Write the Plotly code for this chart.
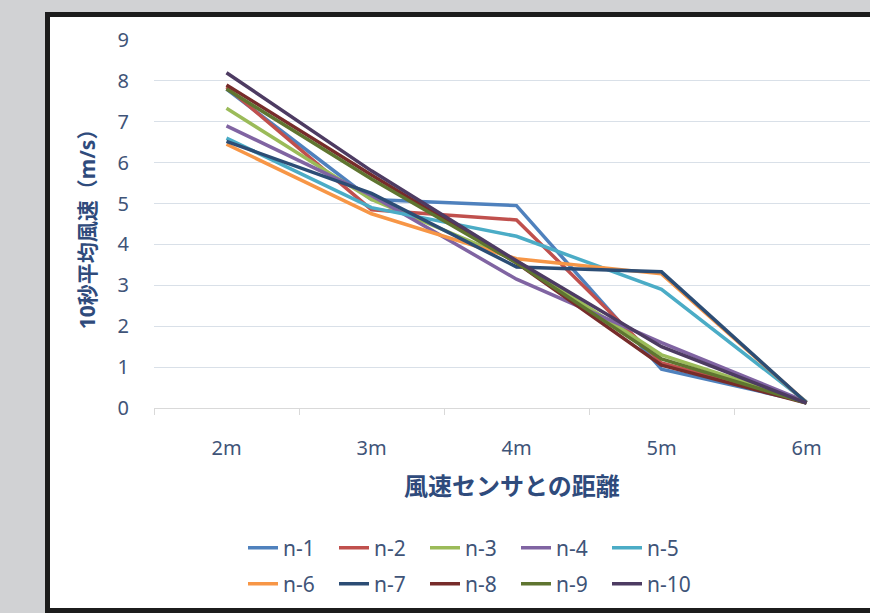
import plotly.graph_objects as go

# Distance from the wind sensor (category axis)
distances = ["2m", "3m", "4m", "5m", "6m"]

# 10-second mean wind speed (m/s) per run
n1 = [7.80, 5.10, 4.95, 0.95, 0.15]
n2 = [7.85, 4.85, 4.60, 1.10, 0.15]
n3 = [7.33, 5.10, 3.60, 1.30, 0.15]
n4 = [6.90, 5.20, 3.15, 1.60, 0.15]
n5 = [6.60, 4.90, 4.20, 2.90, 0.15]
n6 = [6.45, 4.75, 3.65, 3.28, 0.13]
n7 = [6.52, 5.25, 3.45, 3.33, 0.13]
n8 = [7.90, 5.70, 3.55, 1.05, 0.12]
n9 = [7.80, 5.60, 3.55, 1.20, 0.12]
n10 = [8.20, 5.80, 3.60, 1.50, 0.12]

series_names = ["n-1", "n-2", "n-3", "n-4", "n-5",
                "n-6", "n-7", "n-8", "n-9", "n-10"]
series_values = [n1, n2, n3, n4, n5, n6, n7, n8, n9, n10]
series_colors = ["#4f81bd", "#c0504d", "#9bbb59", "#8064a2", "#4bacc6",
                 "#f79646", "#2c4d75", "#772c2a", "#5f7530", "#4d3b62"]

y_ticks = list(range(0, 10))

W, H = 870, 613
ML, MR, MT, MB = 154, 0, 40, 205
PW, PH = W - ML - MR, H - MT - MB

def px_x(px):
    return (px - ML) / PW

def px_y(py):
    return (H - MB - py) / PH

FONT = "Noto Sans, Noto Sans CJK JP, sans-serif"
TEXT = "#3f5478"
TITLE = "#2f4b7c"

fig = go.Figure()
for i, (name, vals, col) in enumerate(zip(series_names, series_values, series_colors)):
    fig.add_trace(go.Scatter(
        x=distances, y=vals, name=name, mode="lines",
        line=dict(color=col, width=3.5),
        legend="legend" if i < 5 else "legend2",
    ))

legend_common = dict(
    orientation="h", xanchor="left", yanchor="middle",
    font=dict(family=FONT, size=21, color=TEXT),
    bgcolor="rgba(0,0,0,0)", itemwidth=30,
    entrywidth=46, entrywidthmode="pixels", tracegroupgap=0,
)

fig.update_layout(
    width=W, height=H,
    margin=dict(l=ML, r=MR, t=MT, b=MB),
    paper_bgcolor="#d1d2d4",
    plot_bgcolor="rgba(0,0,0,0)",
    showlegend=True,
    legend=dict(x=px_x(243), y=px_y(548), **legend_common),
    legend2=dict(x=px_x(243), y=px_y(584), **legend_common),
    xaxis=dict(
        type="category", range=[-0.5, -0.5 + PW / 145.0],
        showgrid=False, showline=True, linecolor="#d9d9d9", linewidth=1,
        ticks="outside", tickson="boundaries", ticklen=6, tickcolor="#d9d9d9",
        tickfont=dict(family=FONT, size=20, color=TEXT),
        ticklabelstandoff=22,
        title=dict(text="<b>風速センサとの距離</b>", standoff=18,
                   font=dict(family=FONT, size=24, color=TITLE)),
    ),
    yaxis=dict(
        range=[0, 9], tickvals=y_ticks,
        showgrid=True, gridcolor="#d9e0e8", gridwidth=1,
        zeroline=False, showline=False, ticks="",
        tickfont=dict(family=FONT, size=20, color=TEXT),
        ticklabelstandoff=24,
        title=dict(text="<b>10秒平均風速（m/s）</b>", standoff=16,
                   font=dict(family=FONT, size=21, color=TITLE)),
    ),
    shapes=[dict(
        type="rect", xref="paper", yref="paper", layer="below",
        x0=px_x(47.5), x1=px_x(900), y0=px_y(610.5), y1=px_y(14.5),
        fillcolor="#ffffff", line=dict(color="#1c1c1c", width=5),
    )],
)

fig.write_html("out.html")
